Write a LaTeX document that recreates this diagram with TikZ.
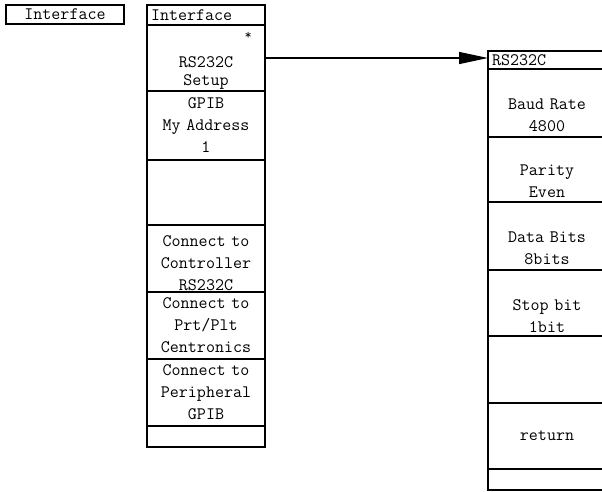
\documentclass[tikz,border=0pt]{standalone}
\usepackage{tikz}
\usetikzlibrary{arrows.meta,positioning}
\tikzset{
  menukey/.style={draw=black,line width=1.1pt,rectangle,outer sep=0pt,inner xsep=4pt,inner ysep=0pt,
    text width=110pt,align=center,font=\ttfamily\fontsize{17.5}{22}\selectfont},
  menuhead/.style={menukey,align=left,minimum height=20pt},
  softkey/.style={draw=black,line width=1.1pt,rectangle,outer sep=0pt,inner sep=0pt,
    minimum width=118pt,minimum height=19pt,font=\ttfamily\fontsize{17.5}{22}\selectfont},
  keyshadow/.style={line width=2.2pt},
  jumparrow/.style={-{Triangle[length=29pt,width=12pt]},line width=1.3pt}
}
\newcommand{\toppad}[1]{\rule{0pt}{#1}}
\begin{document}
\begin{tikzpicture}[x=1pt,y=-1pt]
  \useasboundingbox (0,0) rectangle (602,492);
  \clip (0,0) rectangle (602,492);
  % hard key
  \node[softkey,anchor=north west] (ikey) at (6,5) {Interface};
  \draw[keyshadow] (ikey.north west) -- (ikey.south west) -- (ikey.south east);
  % interface menu
  \node[menuhead,anchor=north west] (ihead) at (147,5) {Interface};
  \node[menukey,minimum height=66pt,below=0pt of ihead] (isetup) {\toppad{18pt}\\RS232C\\[-4pt]Setup};
  \node[font=\ttfamily\fontsize{14}{14}\selectfont,anchor=north east,inner sep=3pt,xshift=-10pt,yshift=-4pt] (istar) at (isetup.north east) {*};
  \node[menukey,minimum height=69pt,below=0pt of isetup] (igpib) {GPIB\\My Address\\1};
  \node[menukey,minimum height=65pt,below=0pt of igpib] (iblank) {};
  \node[menukey,minimum height=67pt,below=0pt of iblank] (ictrl) {\toppad{21pt}Connect to\\Controller\\RS232C};
  \node[menukey,minimum height=67pt,below=0pt of ictrl] (iprt) {Connect to\\Prt/Plt\\Centronics};
  \node[menukey,minimum height=67pt,below=0pt of iprt] (iperi) {Connect to\\Peripheral\\GPIB};
  \node[menukey,minimum height=21pt,below=0pt of iperi] (ifoot) {};
  % rs232c menu
  \node[menuhead,minimum height=18pt,anchor=north west] (rhead) at (488,51) {RS232C};
  \node[menukey,minimum height=68pt,below=0pt of rhead] (rbaud) {\toppad{13pt}\\Baud Rate\\4800};
  \node[menukey,minimum height=65pt,below=0pt of rbaud] (rparity) {\toppad{13pt}\\Parity\\Even};
  \node[menukey,minimum height=68pt,below=0pt of rparity] (rdata) {\toppad{13pt}\\Data Bits\\8bits};
  \node[menukey,minimum height=66pt,below=0pt of rdata] (rstop) {\toppad{15pt}\\Stop bit\\1bit};
  \node[menukey,minimum height=67pt,below=0pt of rstop] (rblank) {};
  \node[menukey,minimum height=66pt,below=0pt of rblank] (rreturn) {return};
  \node[menukey,minimum height=21pt,below=0pt of rreturn] (rfoot) {};
  % softkey jump
  \draw[jumparrow] (isetup.east) -- (rhead.west |- isetup.east);
\end{tikzpicture}
\end{document}
